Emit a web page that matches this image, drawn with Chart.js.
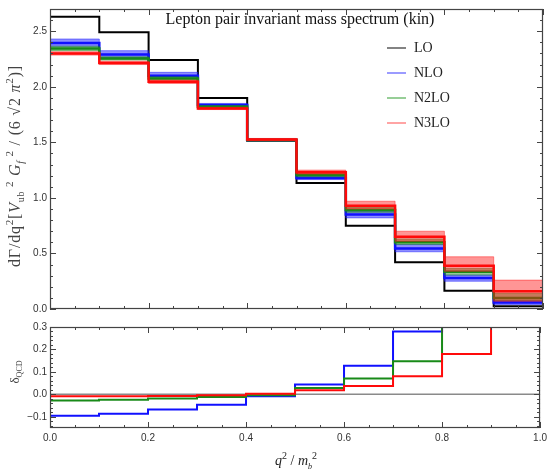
<!DOCTYPE html>
<html>
<head>
<meta charset="utf-8">
<script src="https://cdn.jsdelivr.net/npm/chart.js@4/dist/chart.umd.min.js"></script>
<style>
  body { margin: 0; background: #fff; }
  #wrap { position: relative; width: 551px; height: 469px; }
  #spectrum { position: absolute; left: 0; top: 0; }
  #delta { position: absolute; left: 0; top: 318px; }
</style>
</head>
<body>
<div id="wrap">
  <canvas id="spectrum" width="551" height="318"></canvas>
  <canvas id="delta" width="551" height="151"></canvas>
</div>
<script>
// bins in q^2/m_b^2, lower edges (last bin closes at 1.0)
const binLow = [0.0, 0.1, 0.2, 0.3, 0.4, 0.5, 0.6, 0.7, 0.8, 0.9];
const binHigh = 1.0;
const seriesNames = ['LO', 'NLO', 'N2LO', 'N3LO'];

// normalised differential rate per bin
const rateLO   = [2.63, 2.49, 2.24, 1.90, 1.515, 1.135, 0.75, 0.42, 0.165, 0.025];
const rateNLO  = [2.395, 2.29, 2.10, 1.835, 1.52, 1.18, 0.85, 0.545, 0.28, 0.058];
const rateN2LO = [2.345, 2.255, 2.075, 1.82, 1.52, 1.205, 0.89, 0.60, 0.335, 0.10];
const rateN3LO = [2.30, 2.215, 2.045, 1.805, 1.525, 1.23, 0.93, 0.65, 0.39, 0.16];

// scale-variation bands
const nloLow   = [2.365, 2.26, 2.075, 1.82, 1.51, 1.165, 0.82, 0.515, 0.25, 0.04];
const nloHigh  = [2.43, 2.325, 2.13, 1.85, 1.53, 1.195, 0.88, 0.58, 0.305, 0.075];
const n2loLow  = [2.325, 2.24, 2.06, 1.81, 1.51, 1.19, 0.87, 0.58, 0.305, 0.075];
const n2loHigh = [2.365, 2.27, 2.09, 1.83, 1.53, 1.22, 0.915, 0.63, 0.365, 0.14];
const n3loLow  = [2.285, 2.20, 2.03, 1.795, 1.515, 1.215, 0.90, 0.61, 0.34, 0.07];
const n3loHigh = [2.315, 2.23, 2.06, 1.815, 1.535, 1.25, 0.97, 0.70, 0.47, 0.26];

// QCD corrections order by order, relative to LO
const deltaNLO  = [-0.095, -0.086, -0.068, -0.046, -0.009, 0.044, 0.127, 0.28, 0.69, 1.3];
const deltaN2LO = [-0.027, -0.024, -0.019, -0.012, -0.004, 0.028, 0.07, 0.147, 0.40, 1.0];
const deltaN3LO = [-0.009, -0.009, -0.007, -0.004, 0.003, 0.018, 0.037, 0.081, 0.18, 0.8];

// axis ticks
const xTicks = [0.0, 0.2, 0.4, 0.6, 0.8, 1.0];
const yTicksTop = [0.0, 0.5, 1.0, 1.5, 2.0, 2.5];
const yTicksBottom = [-0.1, 0.0, 0.1, 0.2, 0.3];

const colors = {
  LO: '#000000',
  NLO: '#1010ff',
  N2LO: '#188a18',
  N3LO: '#ff0a0a'
};

// histogram as a step line: value holds until the next edge
function steps(vals) {
  const pts = binLow.map((x, i) => ({ x: x, y: vals[i] }));
  pts.push({ x: binHigh, y: vals[vals.length - 1] });
  return pts;
}

function line(label, vals, color, width) {
  return { label: label, data: steps(vals), borderColor: color, borderWidth: width,
           stepped: true, pointRadius: 0, fill: false };
}

function band(vals, color, fillTo) {
  return { data: steps(vals), borderColor: color, borderWidth: 1, stepped: true,
           pointRadius: 0, fill: fillTo, backgroundColor: color };
}

function drawRich(ctx, parts, x, y, size, family, color, rot, spacing) {
  ctx.save();
  ctx.translate(x, y);
  ctx.rotate(rot || 0);
  ctx.fillStyle = color;
  ctx.textBaseline = 'alphabetic';
  ctx.letterSpacing = (spacing || 0) + 'px';
  const fontFor = p => (p.i ? 'italic ' : '') + ((p.sup || p.sub) ? Math.round(size * (p.sub ? 0.6 : 0.7)) : size) + 'px ' + family;
  let w = 0;
  parts.forEach(p => { ctx.font = fontFor(p); w += ctx.measureText(p.t).width; });
  let cx = -w / 2;
  parts.forEach(p => {
    ctx.font = fontFor(p);
    const dy = p.sup ? -size * 0.42 : p.sub ? size * 0.28 : 0;
    ctx.fillText(p.t, cx, dy + size * 0.35);
    cx += ctx.measureText(p.t).width;
  });
  ctx.restore();
}

// box frame with inward major/minor ticks on all four sides
const framePlugin = {
  id: 'frame',
  afterDatasetsDraw(chart, args, opts) {
    const { ctx, chartArea: a, scales } = chart;
    const xs = scales.x, ys = scales.y;
    ctx.save();
    ctx.strokeStyle = '#444';
    ctx.lineWidth = 1;
    ctx.beginPath();
    const tickX = (v, len) => {
      const px = Math.round(xs.getPixelForValue(v)) + 0.5;
      ctx.moveTo(px, a.bottom); ctx.lineTo(px, a.bottom - len);
      ctx.moveTo(px, a.top); ctx.lineTo(px, a.top + len);
    };
    const tickY = (v, len) => {
      const py = Math.round(ys.getPixelForValue(v)) + 0.5;
      ctx.moveTo(a.left, py); ctx.lineTo(a.left + len, py);
      ctx.moveTo(a.right, py); ctx.lineTo(a.right - len, py);
    };
    for (let v = xs.min; v <= xs.max + 1e-9; v += opts.xMinor) tickX(v, 3);
    opts.xMajor.forEach(v => tickX(v, 6));
    const y0 = Math.ceil(ys.min / opts.yMinor - 1e-9) * opts.yMinor;
    for (let v = y0; v <= ys.max + 1e-9; v += opts.yMinor) tickY(v, 3);
    opts.yMajor.forEach(v => tickY(v, 6));
    ctx.stroke();
    ctx.lineWidth = 1.2;
    ctx.strokeRect(a.left + 0.5, a.top + 0.5, a.right - a.left - 1, a.bottom - a.top - 1);
    ctx.restore();
  }
};

// titles and legend drawn onto the canvas
const textPlugin = {
  id: 'texts',
  afterDraw(chart, args, opts) {
    const ctx = chart.ctx;
    (opts.items || []).forEach(it => drawRich(ctx, it.parts, it.x, it.y, it.size, it.family, it.color, it.rot, it.spacing));
    if (opts.legend) {
      const lg = opts.legend;
      ctx.save();
      ctx.font = '14px "Liberation Serif"';
      ctx.textBaseline = 'middle';
      lg.names.forEach((name, i) => {
        const y = lg.y + i * lg.gap;
        ctx.strokeStyle = lg.colors[i];
        ctx.globalAlpha = 0.65;
        ctx.lineWidth = 1.5;
        ctx.beginPath();
        ctx.moveTo(lg.x, y); ctx.lineTo(lg.x + 19, y);
        ctx.stroke();
        ctx.globalAlpha = 1;
        ctx.fillStyle = '#222';
        ctx.fillText(name, lg.x + 27, y);
      });
      ctx.restore();
    }
  }
};

const tickFont = { family: '"Liberation Sans", Arial, sans-serif', size: 10 };
const fmt = v => (v < 0 ? '\u2212' : '') + Math.abs(v).toFixed(1);

new Chart(document.getElementById('spectrum'), {
  type: 'line',
  data: {
    datasets: [
      line('N3LO', rateN3LO, colors.N3LO, 2.5),
      band(n3loHigh, 'rgba(255,20,20,0.45)', '+1'),
      band(n3loLow, 'rgba(255,20,20,0.45)', false),
      line('N2LO', rateN2LO, colors.N2LO, 2.5),
      band(n2loHigh, 'rgba(24,138,24,0.45)', '+1'),
      band(n2loLow, 'rgba(24,138,24,0.45)', false),
      line('NLO', rateNLO, colors.NLO, 2.5),
      band(nloHigh, 'rgba(30,30,255,0.5)', '+1'),
      band(nloLow, 'rgba(30,30,255,0.5)', false),
      line('LO', rateLO, colors.LO, 2)
    ]
  },
  options: {
    responsive: false,
    animation: false,
    layout: { padding: { left: 0, top: 7, right: 8, bottom: 0 } },
    scales: {
      x: {
        type: 'linear', min: 0, max: 1,
        grid: { display: false, drawTicks: false },
        border: { display: false },
        ticks: { display: false },
        afterFit: s => { s.height = 7; }
      },
      y: {
        min: 0, max: 2.7,
        grid: { display: false, drawTicks: false },
        border: { display: false },
        afterBuildTicks: s => { s.ticks = yTicksTop.map(v => ({ value: v })); },
        ticks: { font: tickFont, color: '#333', padding: 3, callback: fmt },
        afterFit: s => { s.width = 50; }
      }
    },
    plugins: {
      legend: { display: false },
      tooltip: { enabled: false },
      frame: { xMajor: xTicks, xMinor: 0.05, yMajor: yTicksTop, yMinor: 0.1 },
      texts: {
        items: [
          { parts: [{ t: 'Lepton pair invariant mass spectrum (kin)' }],
            x: 300, y: 18, size: 16, family: '"Liberation Serif", serif', color: '#111', rot: 0 },
          { parts: [
              { t: 'd\u0393' }, { t: '/' }, { t: 'dq' }, { t: '2', sup: true },
              { t: '[' }, { t: 'V', i: true }, { t: 'ub', sub: true }, { t: ' 2', sup: true },
              { t: ' ' }, { t: 'G', i: true }, { t: 'f', sub: true, i: true }, { t: ' 2', sup: true },
              { t: ' / (6 \u221A2 ' }, { t: '\u03C0', i: true }, { t: '2', sup: true }, { t: ')]' }
            ],
            x: 14, y: 166, size: 16, family: '"Liberation Serif", serif', color: '#444',
            rot: -Math.PI / 2, spacing: 0.8 }
        ],
        legend: {
          names: seriesNames, x: 387, y: 48, gap: 25,
          colors: ['#000', '#3333ff', '#2a9a2a', '#ff4444']
        }
      }
    }
  },
  plugins: [framePlugin, textPlugin]
});

new Chart(document.getElementById('delta'), {
  type: 'line',
  data: {
    datasets: [
      line('N3LO', deltaN3LO, colors.N3LO, 2),
      line('N2LO', deltaN2LO, colors.N2LO, 2),
      line('NLO', deltaNLO, colors.NLO, 2),
      { label: 'LO', data: [{ x: 0, y: 0 }, { x: 1, y: 0 }], borderColor: '#8a8a8a',
        borderWidth: 1.5, pointRadius: 0, fill: false }
    ]
  },
  options: {
    responsive: false,
    animation: false,
    layout: { padding: { left: 0, top: 8, right: 8, bottom: 0 } },
    scales: {
      x: {
        type: 'linear', min: 0, max: 1,
        grid: { display: false, drawTicks: false },
        border: { display: false },
        afterBuildTicks: s => { s.ticks = xTicks.map(v => ({ value: v })); },
        ticks: { font: tickFont, color: '#333', padding: 4, maxRotation: 0, callback: fmt },
        afterFit: s => { s.height = 41; }
      },
      y: {
        min: -0.15, max: 0.3,
        grid: { display: false, drawTicks: false },
        border: { display: false },
        afterBuildTicks: s => { s.ticks = yTicksBottom.map(v => ({ value: v })); },
        ticks: { font: tickFont, color: '#333', padding: 3, callback: fmt },
        afterFit: s => { s.width = 50; }
      }
    },
    plugins: {
      legend: { display: false },
      tooltip: { enabled: false },
      frame: { xMajor: xTicks, xMinor: 0.05, yMajor: yTicksBottom, yMinor: 0.02 },
      texts: {
        items: [
          { parts: [{ t: '\u03B4' }, { t: 'QCD', sub: true }],
            x: 14, y: 54, size: 13, family: '"Liberation Serif", serif', color: '#444', rot: -Math.PI / 2 },
          { parts: [{ t: 'q', i: true }, { t: '2', sup: true }, { t: ' / ' }, { t: 'm', i: true },
                    { t: 'b', sub: true, i: true }, { t: '2', sup: true }],
            x: 296, y: 142, size: 14, family: '"Liberation Serif", serif', color: '#222', rot: 0 }
        ]
      }
    }
  },
  plugins: [framePlugin, textPlugin]
});
</script>
</body>
</html>
